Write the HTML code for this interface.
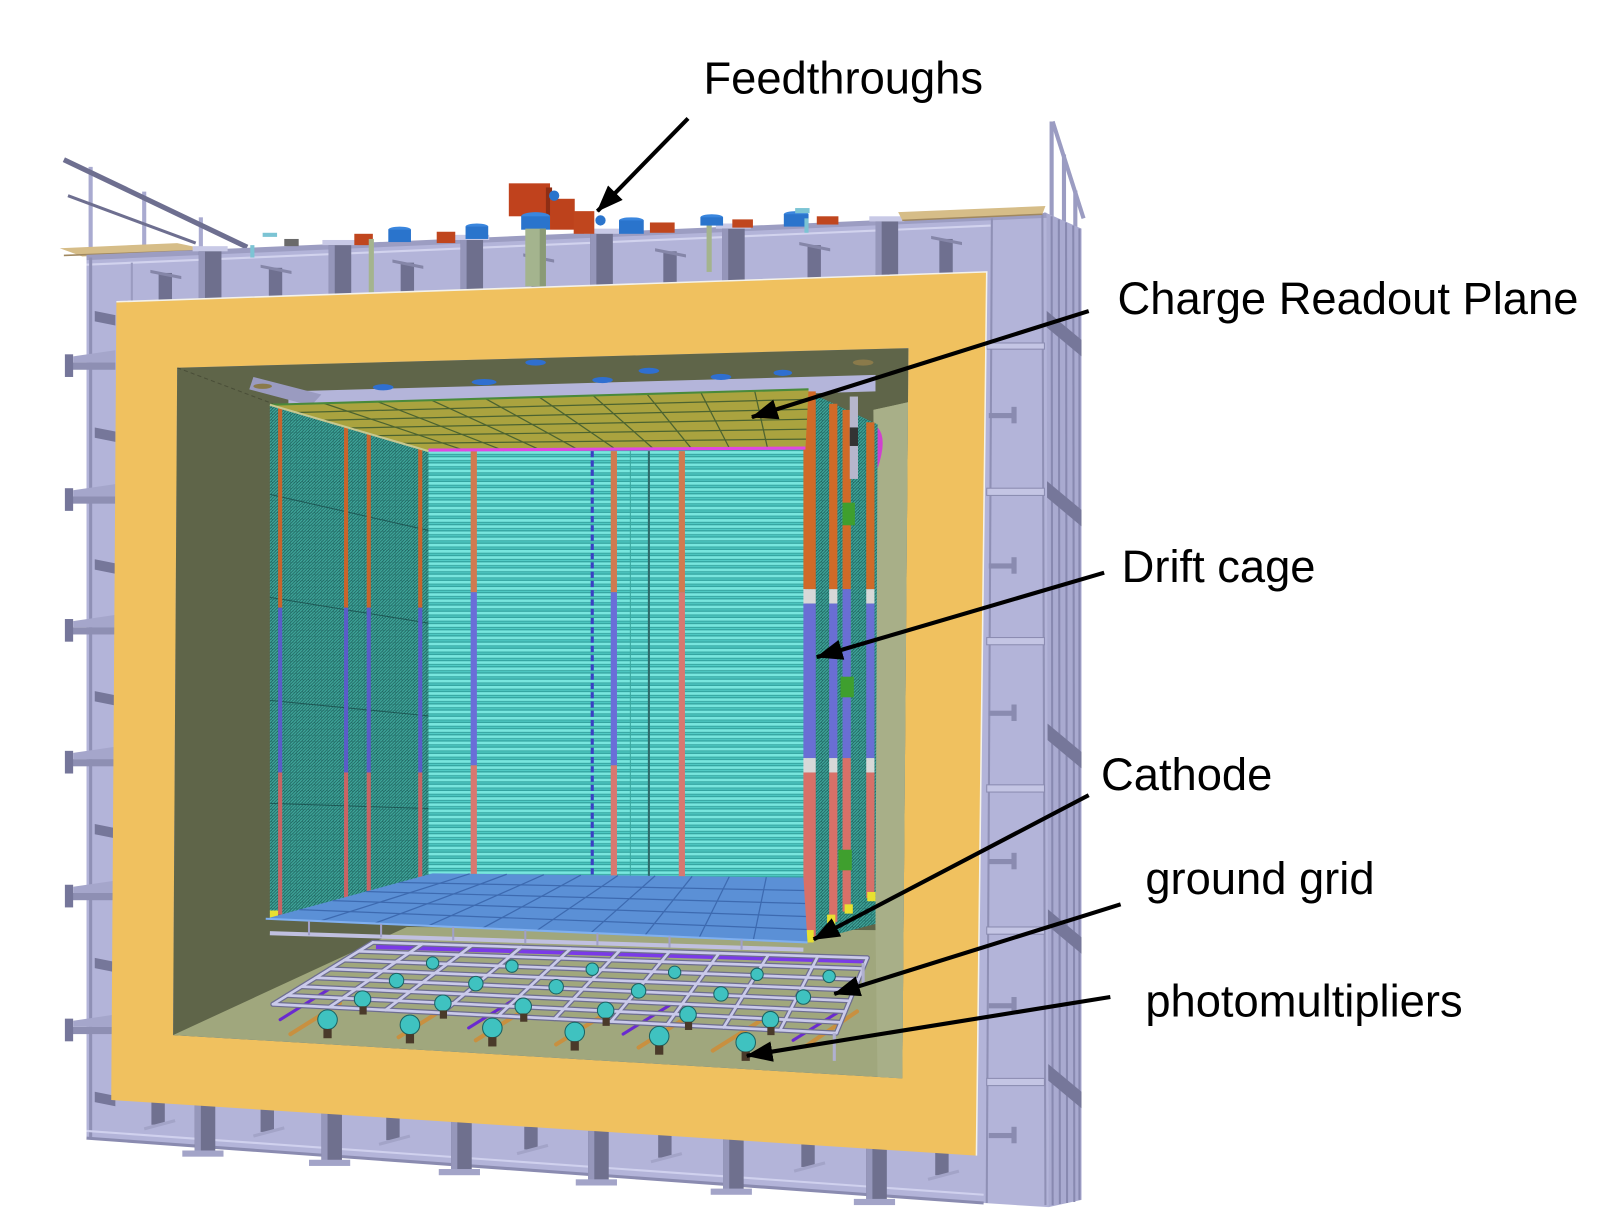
<!DOCTYPE html>
<html><head><meta charset="utf-8"><style>
html,body{margin:0;padding:0;background:#fff;width:1614px;height:1230px;overflow:hidden}
svg{display:block}
</style></head><body>
<svg width="1614" height="1230" viewBox="0 0 1567 1194.2" preserveAspectRatio="none" font-family="'Liberation Sans', Arial, sans-serif">
<defs>
<pattern id="stripe" width="40" height="6" patternUnits="userSpaceOnUse">
<rect width="40" height="6" fill="#34a4a0"/>
<rect y="0" width="40" height="2.6" fill="#78e6de"/>
<rect y="3.6" width="40" height="1.1" fill="#52ccc6"/>
</pattern>
<pattern id="mesh" width="6" height="6" patternUnits="userSpaceOnUse">
<rect width="6" height="6" fill="#1f6460"/>
<path d="M0,6 L6,0 M0,3 L3,0 M3,6 L6,3" stroke="#40a89c" stroke-width="1.3"/>
</pattern>
<clipPath id="hole"><polygon points="172,357 882,338 876,1047 168,1005"/></clipPath>
<marker id="ah" viewBox="0 0 26 20" refX="25" refY="10" markerWidth="26" markerHeight="20" markerUnits="userSpaceOnUse" orient="auto">
<path d="M0,0 L26,10 L0,20 Z" fill="#000"/>
</marker>
</defs>

<!-- left railing -->
<g stroke="#a9aad0" stroke-width="4">
<line x1="88" y1="162" x2="88" y2="246"/>
<line x1="140" y1="186" x2="140" y2="244"/>
<line x1="195" y1="211" x2="195" y2="242"/>
</g>
<line x1="62" y1="155" x2="240" y2="240" stroke="#6e6f90" stroke-width="5"/>
<line x1="66" y1="190" x2="190" y2="236" stroke="#6e6f90" stroke-width="3"/>
<polygon points="58,241 172,236 205,243 80,249" fill="#d6bd88"/>
<line x1="62" y1="248" x2="200" y2="243" stroke="#a08860" stroke-width="1.5"/>

<!-- right railing -->
<g stroke="#9b9cc2" stroke-width="4" fill="none">
<line x1="1021" y1="118" x2="1021" y2="262"/>
<line x1="1022" y1="118" x2="1052" y2="212"/>
<line x1="1033" y1="150" x2="1033" y2="275"/>
<line x1="1044" y1="185" x2="1044" y2="285"/>
</g>

<!-- steel side face -->
<polygon points="1014,206 1050,222 1050,1165 1018,1172" fill="#a9aad0"/>
<g stroke="#8889b0" stroke-width="2">
<line x1="1021" y1="210" x2="1022" y2="1170"/>
<line x1="1028" y1="213" x2="1029" y2="1169"/>
<line x1="1035" y1="216" x2="1036" y2="1168"/>
<line x1="1042" y1="219" x2="1043" y2="1167"/>
<line x1="1048" y1="222" x2="1048" y2="1165"/>
</g>
<g fill="#76779a">
<polygon points="1014,300 1050,330 1050,346 1014,316"/>
<polygon points="1014,465 1050,495 1050,511 1014,481"/>
<polygon points="1014,700 1050,730 1050,746 1014,716"/>
<polygon points="1014,880 1050,910 1050,926 1014,896"/>
<polygon points="1014,1030 1050,1060 1050,1076 1014,1046"/>
</g>

<!-- steel front face -->
<polygon points="84,250 962,212 1016,208 1018,1172 955,1168 84,1105" fill="#b3b4d9"/>
<line x1="84" y1="250" x2="1016" y2="209" stroke="#9c9dc2" stroke-width="5"/>
<line x1="84" y1="257" x2="962" y2="219" stroke="#d2d3ee" stroke-width="2"/>
<line x1="88" y1="250" x2="88" y2="1106" stroke="#8f90b5" stroke-width="3"/>
<line x1="128" y1="255" x2="128" y2="300" stroke="#9a9bc0" stroke-width="2"/>
<line x1="84" y1="1105" x2="955" y2="1168" stroke="#8a8bb0" stroke-width="3"/>
<line x1="84" y1="1098" x2="955" y2="1160" stroke="#d0d1ee" stroke-width="2"/>
<line x1="963" y1="212" x2="958" y2="1168" stroke="#8f90b5" stroke-width="2"/>
<line x1="1012" y1="208" x2="1015" y2="1170" stroke="#8f90b5" stroke-width="2"/>

<!-- top beams -->
<g>
<rect x="193" y="242" width="22" height="48" fill="#6e6f8d"/><rect x="187" y="239" width="34" height="5" fill="#c8c9e6"/><rect x="193" y="244" width="6" height="46" fill="#9596ba"/>
<rect x="319" y="236" width="22" height="50" fill="#6e6f8d"/><rect x="313" y="233" width="34" height="5" fill="#c8c9e6"/><rect x="319" y="238" width="6" height="48" fill="#9596ba"/>
<rect x="447" y="231" width="22" height="50" fill="#6e6f8d"/><rect x="441" y="228" width="34" height="5" fill="#c8c9e6"/><rect x="447" y="233" width="6" height="48" fill="#9596ba"/>
<rect x="573" y="225" width="22" height="52" fill="#6e6f8d"/><rect x="567" y="222" width="34" height="5" fill="#c8c9e6"/><rect x="573" y="227" width="6" height="50" fill="#9596ba"/>
<rect x="701" y="220" width="22" height="53" fill="#6e6f8d"/><rect x="695" y="217" width="34" height="5" fill="#c8c9e6"/><rect x="701" y="222" width="6" height="51" fill="#9596ba"/>
<rect x="850" y="213" width="22" height="55" fill="#6e6f8d"/><rect x="844" y="210" width="34" height="5" fill="#c8c9e6"/><rect x="850" y="215" width="6" height="53" fill="#9596ba"/>
</g>
<g fill="#6f7090">
<rect x="154" y="265" width="13" height="27"/><rect x="261" y="260" width="13" height="28"/><rect x="389" y="255" width="13" height="29"/><rect x="516" y="249" width="13" height="30"/><rect x="644" y="244" width="13" height="31"/><rect x="784" y="238" width="13" height="32"/><rect x="912" y="232" width="13" height="34"/>
</g>
<g fill="#8586a8">
<polygon points="146,262 176,268 176,271 146,265"/><polygon points="253,257 283,263 283,266 253,260"/><polygon points="381,252 411,258 411,261 381,255"/><polygon points="508,246 538,252 538,255 508,249"/><polygon points="636,241 666,247 666,250 636,244"/><polygon points="776,235 806,241 806,244 776,238"/><polygon points="904,229 934,235 934,238 904,232"/>
</g>
<polygon points="872,206 1015,200 1012,208 876,214" fill="#d6bd88"/>
<line x1="876" y1="214" x2="1012" y2="208" stroke="#a08860" stroke-width="1.5"/>

<!-- top feedthrough items -->
<rect x="255" y="226" width="14" height="4" fill="#7cc4d4"/>
<rect x="243" y="238" width="4" height="12" fill="#7cc4d4"/>
<rect x="276" y="232" width="14" height="7" fill="#6a6a6a"/>
<rect x="344" y="227" width="18" height="11" fill="#c0461e"/>
<rect x="358" y="232" width="5" height="52" fill="#a4b48e"/>
<ellipse cx="388" cy="223" rx="11" ry="3" fill="#3a86de"/><rect x="377" y="223" width="22" height="12" fill="#2a74cc"/>
<rect x="424" y="225" width="18" height="11" fill="#c0461e"/>
<ellipse cx="463" cy="220" rx="11" ry="3" fill="#3a86de"/><rect x="452" y="220" width="22" height="12" fill="#2a74cc"/>
<rect x="494" y="178" width="40" height="32" fill="#c0421d"/>
<rect x="530" y="182" width="6" height="28" fill="#8e2e14"/>
<ellipse cx="520" cy="210" rx="14" ry="4" fill="#3a86de"/><rect x="506" y="210" width="28" height="13" fill="#2a74cc"/>
<rect x="510" y="222" width="20" height="56" fill="#a4b48e"/><rect x="524" y="222" width="6" height="56" fill="#8a9a76"/>
<rect x="534" y="193" width="24" height="30" fill="#bd421c"/>
<circle cx="538" cy="190" r="5" fill="#2a74cc"/>
<rect x="557" y="205" width="20" height="22" fill="#c0461e"/>
<circle cx="583" cy="214" r="5" fill="#2a74cc"/>
<ellipse cx="613" cy="214" rx="12" ry="3" fill="#3a86de"/><rect x="601" y="214" width="24" height="13" fill="#2a74cc"/>
<rect x="631" y="216" width="24" height="10" fill="#c0461e"/>
<rect x="686" y="214" width="5" height="50" fill="#a4b48e"/>
<ellipse cx="691" cy="211" rx="11" ry="3" fill="#3a86de"/><rect x="680" y="211" width="22" height="8" fill="#2a74cc"/>
<rect x="711" y="213" width="20" height="8" fill="#c0461e"/>
<ellipse cx="773" cy="208" rx="12" ry="3" fill="#3a86de"/><rect x="761" y="208" width="24" height="12" fill="#2a74cc"/>
<rect x="772" y="202" width="14" height="5" fill="#7cc4d4"/>
<rect x="781" y="212" width="4" height="14" fill="#7cc4d4"/>
<rect x="793" y="210" width="21" height="8" fill="#c0461e"/>

<!-- left stubs -->
<g>
<rect x="66" y="352" width="46" height="7" fill="#8e8fb3"/><rect x="63" y="344" width="8" height="22" fill="#75769a"/><polygon points="71,346 112,340 112,352 71,352" fill="#a5a6cb"/>
<rect x="66" y="482" width="46" height="7" fill="#8e8fb3"/><rect x="63" y="474" width="8" height="22" fill="#75769a"/><polygon points="71,476 112,470 112,482 71,482" fill="#a5a6cb"/>
<rect x="66" y="609" width="46" height="7" fill="#8e8fb3"/><rect x="63" y="601" width="8" height="22" fill="#75769a"/><polygon points="71,603 112,597 112,609 71,609" fill="#a5a6cb"/>
<rect x="66" y="737" width="46" height="7" fill="#8e8fb3"/><rect x="63" y="729" width="8" height="22" fill="#75769a"/><polygon points="71,731 112,725 112,737 71,737" fill="#a5a6cb"/>
<rect x="66" y="867" width="46" height="7" fill="#8e8fb3"/><rect x="63" y="859" width="8" height="22" fill="#75769a"/><polygon points="71,861 112,855 112,867 71,867" fill="#a5a6cb"/>
<rect x="66" y="997" width="46" height="7" fill="#8e8fb3"/><rect x="63" y="989" width="8" height="22" fill="#75769a"/><polygon points="71,991 112,985 112,997 71,997" fill="#a5a6cb"/>
</g>
<g fill="#76779a">
<polygon points="92,302 112,306 112,316 92,312"/><polygon points="92,415 112,419 112,429 92,425"/><polygon points="92,543 112,547 112,557 92,553"/><polygon points="92,671 112,675 112,685 92,681"/><polygon points="92,800 112,804 112,814 92,810"/><polygon points="92,930 112,934 112,944 92,940"/><polygon points="92,1060 112,1064 112,1074 92,1070"/>
</g>

<!-- right struts -->
<g fill="#c4c5e4" stroke="#8a8bb0" stroke-width="1">
<rect x="958" y="333" width="56" height="6"/>
<rect x="958" y="474" width="56" height="7"/>
<rect x="958" y="619" width="56" height="7"/>
<rect x="958" y="762" width="56" height="7"/>
<rect x="958" y="900" width="56" height="7"/>
<rect x="958" y="1047" width="56" height="7"/>
</g>
<g fill="#8a8bb0">
<rect x="960" y="401" width="24" height="5"/><rect x="982" y="395" width="5" height="16"/>
<rect x="960" y="547" width="24" height="5"/><rect x="982" y="541" width="5" height="16"/>
<rect x="960" y="690" width="24" height="5"/><rect x="982" y="684" width="5" height="16"/>
<rect x="960" y="834" width="24" height="5"/><rect x="982" y="828" width="5" height="16"/>
<rect x="960" y="974" width="24" height="5"/><rect x="982" y="968" width="5" height="16"/>
<rect x="960" y="1100" width="24" height="5"/><rect x="982" y="1094" width="5" height="16"/>
</g>

<!-- bottom beams -->
<g>
<rect x="189" y="1073" width="20" height="48" fill="#6f708e"/><rect x="189" y="1073" width="6" height="48" fill="#9697bb"/><rect x="177" y="1117" width="40" height="6" fill="#a3a4c8"/>
<rect x="312" y="1081" width="20" height="49" fill="#6f708e"/><rect x="312" y="1081" width="6" height="49" fill="#9697bb"/><rect x="300" y="1126" width="40" height="6" fill="#a3a4c8"/>
<rect x="438" y="1089" width="20" height="50" fill="#6f708e"/><rect x="438" y="1089" width="6" height="50" fill="#9697bb"/><rect x="426" y="1135" width="40" height="6" fill="#a3a4c8"/>
<rect x="571" y="1098" width="20" height="51" fill="#6f708e"/><rect x="571" y="1098" width="6" height="51" fill="#9697bb"/><rect x="559" y="1145" width="40" height="6" fill="#a3a4c8"/>
<rect x="702" y="1106" width="20" height="52" fill="#6f708e"/><rect x="702" y="1106" width="6" height="52" fill="#9697bb"/><rect x="690" y="1154" width="40" height="6" fill="#a3a4c8"/>
<rect x="841" y="1115" width="20" height="53" fill="#6f708e"/><rect x="841" y="1115" width="6" height="53" fill="#9697bb"/><rect x="829" y="1164" width="40" height="6" fill="#a3a4c8"/>
</g>
<g fill="#707190">
<rect x="147" y="1070" width="13" height="22"/><rect x="253" y="1077" width="13" height="22"/><rect x="375" y="1085" width="13" height="22"/><rect x="509" y="1094" width="13" height="22"/><rect x="639" y="1102" width="13" height="22"/><rect x="778" y="1111" width="13" height="22"/><rect x="908" y="1119" width="13" height="22"/>
</g>
<g stroke="#a3a4c8" stroke-width="3">
<line x1="140" y1="1096" x2="170" y2="1088"/><line x1="246" y1="1103" x2="276" y2="1095"/><line x1="368" y1="1111" x2="398" y2="1103"/><line x1="502" y1="1120" x2="532" y2="1112"/><line x1="632" y1="1128" x2="662" y2="1120"/><line x1="771" y1="1137" x2="801" y2="1129"/><line x1="901" y1="1145" x2="931" y2="1137"/>
</g>

<!-- yellow insulation frame -->
<path d="M113,293 L958,264 L948,1122 L108,1068 Z M172,357 L168,1005 L876,1047 L882,338 Z" fill="#f0c15f" fill-rule="evenodd"/>
<polyline points="113,293 958,264 948,1122" fill="none" stroke="#f4f2ea" stroke-width="1.5"/>

<!-- interior -->
<g clip-path="url(#hole)">
<rect x="160" y="330" width="730" height="730" fill="#5f6549"/>
<polygon points="848,398 884,390 884,1050 168,1005 395,900 850,903" fill="#a0a77d"/>
<polygon points="848,398 884,390 884,1050 852,1048 850,903" fill="#a8af88"/>
<line x1="172" y1="357" x2="265" y2="392" stroke="#4a4e38" stroke-width="1" stroke-dasharray="4,3"/>
<polygon points="280,380 850,364 850,380 280,397" fill="#b4b5da"/>
<polygon points="246,366 312,383 302,394 242,378" fill="#9a9bc0"/>
<g fill="#2f6fd0">
<ellipse cx="520" cy="352" rx="10" ry="3"/><ellipse cx="470" cy="371" rx="12" ry="3"/><ellipse cx="585" cy="369" rx="10" ry="3"/><ellipse cx="630" cy="360" rx="10" ry="3"/><ellipse cx="700" cy="366" rx="10" ry="3"/><ellipse cx="372" cy="376" rx="10" ry="3"/><ellipse cx="760" cy="362" rx="9" ry="3"/>
</g>
<ellipse cx="255" cy="375" rx="9" ry="2.5" fill="#8a7a4a"/>
<ellipse cx="838" cy="352" rx="10" ry="3" fill="#8a7a4a"/>

<!-- right panel -->
<polygon points="780,378 852,412 850,897 782,915" fill="url(#mesh)"/>
<!-- left panel -->
<polygon points="262,393 416,438 416,858 262,890" fill="url(#mesh)"/>
<g stroke="#1d5855" stroke-width="1">
<line x1="262" y1="480" x2="416" y2="515"/><line x1="262" y1="580" x2="416" y2="605"/><line x1="262" y1="680" x2="416" y2="695"/><line x1="262" y1="780" x2="416" y2="785"/>
</g>
<!-- front face -->
<polygon points="416,437 782,435 782,855 416,858" fill="url(#stripe)"/>
<line x1="630" y1="438" x2="630" y2="856" stroke="#2e6a6a" stroke-width="2"/>
<line x1="612" y1="438" x2="612" y2="856" stroke="#3aa8a0" stroke-width="1"/>
<line x1="575" y1="438" x2="575" y2="856" stroke="#3a40c4" stroke-width="3" stroke-dasharray="6,3"/>

<!-- posts left panel -->
<g>
<rect x="270" y="396" width="4" height="194" fill="#c8642c"/><rect x="270" y="590" width="4" height="160" fill="#5a5cc8"/><rect x="270" y="750" width="4" height="138" fill="#c86464"/>
<rect x="334" y="415" width="4" height="175" fill="#c8642c"/><rect x="334" y="590" width="4" height="160" fill="#5a5cc8"/><rect x="334" y="750" width="4" height="125" fill="#c86464"/>
<rect x="356" y="421" width="4" height="169" fill="#c8642c"/><rect x="356" y="590" width="4" height="160" fill="#5a5cc8"/><rect x="356" y="750" width="4" height="120" fill="#c86464"/>
<rect x="406" y="436" width="4" height="154" fill="#c8642c"/><rect x="406" y="590" width="4" height="160" fill="#5a5cc8"/><rect x="406" y="750" width="4" height="110" fill="#c86464"/>
</g>
<!-- posts front face -->
<g>
<rect x="457" y="438" width="6" height="137" fill="#d07a50"/><rect x="457" y="575" width="6" height="168" fill="#6a6ed8"/><rect x="457" y="743" width="6" height="114" fill="#d87870"/>
<rect x="593" y="438" width="6" height="137" fill="#d07a50"/><rect x="593" y="575" width="6" height="168" fill="#6a6ed8"/><rect x="593" y="743" width="6" height="114" fill="#d87870"/>
<rect x="659" y="438" width="6" height="137" fill="#d07a50"/><rect x="659" y="575" width="6" height="168" fill="#d87870"/><rect x="659" y="743" width="6" height="114" fill="#d87870"/>
</g>
<!-- posts right panel -->
<g>
<rect x="780" y="380" width="12" height="192" fill="#d06a28"/><rect x="780" y="572" width="12" height="14" fill="#d8d8d8"/><rect x="780" y="586" width="12" height="150" fill="#6a6ed4"/><rect x="780" y="736" width="12" height="14" fill="#d8d8d8"/><rect x="780" y="750" width="12" height="162" fill="#d87068"/>
<rect x="805" y="392" width="8" height="180" fill="#d06a28"/><rect x="805" y="572" width="8" height="14" fill="#d8d8d8"/><rect x="805" y="586" width="8" height="150" fill="#6a6ed4"/><rect x="805" y="736" width="8" height="14" fill="#d8d8d8"/><rect x="805" y="750" width="8" height="145" fill="#d87068"/>
<rect x="818" y="398" width="8" height="174" fill="#d06a28"/><rect x="818" y="572" width="8" height="164" fill="#6a6ed4"/><rect x="818" y="736" width="8" height="149" fill="#d87068"/>
<rect x="841" y="410" width="8" height="162" fill="#d06a28"/><rect x="841" y="572" width="8" height="14" fill="#d8d8d8"/><rect x="841" y="586" width="8" height="150" fill="#6a6ed4"/><rect x="841" y="736" width="8" height="14" fill="#d8d8d8"/><rect x="841" y="750" width="8" height="122" fill="#d87068"/>
</g>
<g fill="#3f9f2e">
<rect x="818" y="488" width="12" height="22"/><rect x="816" y="657" width="13" height="20"/><rect x="814" y="825" width="13" height="20"/>
</g>
<rect x="825" y="385" width="8" height="80" fill="#b6b6cc"/><rect x="825" y="415" width="8" height="18" fill="#333"/>
<path d="M852,415 q10,10 0,40" fill="#d040d0"/>
<g fill="#e8e030">
<rect x="782" y="903" width="8" height="12"/><rect x="803" y="888" width="8" height="10"/><rect x="820" y="878" width="8" height="9"/><rect x="842" y="866" width="8" height="9"/>
<rect x="262" y="884" width="8" height="8"/>
</g>

<!-- charge readout plane -->
<polygon points="262,393 785,378 782,436 416,438" fill="#aaa33f"/>
<g stroke="#4b6330" stroke-width="1.2">
<line x1="287.7" y1="400.5" x2="784.5" y2="387.7"/><line x1="313.3" y1="408" x2="784" y2="397.3"/><line x1="339" y1="415.5" x2="783.5" y2="407"/><line x1="364.7" y1="423" x2="783" y2="416.7"/><line x1="390.3" y1="430.5" x2="782.5" y2="426.3"/>
<line x1="314.3" y1="391.5" x2="452.6" y2="437.8"/><line x1="366.6" y1="390" x2="489.2" y2="437.6"/><line x1="418.9" y1="388.5" x2="525.8" y2="437.4"/><line x1="471.2" y1="387" x2="562.4" y2="437.2"/><line x1="523.5" y1="385.5" x2="599" y2="437"/><line x1="575.8" y1="384" x2="635.6" y2="436.8"/><line x1="628.1" y1="382.5" x2="672.2" y2="436.6"/><line x1="680.4" y1="381" x2="708.8" y2="436.4"/><line x1="732.7" y1="379.5" x2="745.4" y2="436.2"/>
</g>
<line x1="262" y1="393" x2="785" y2="378" stroke="#4a8a3a" stroke-width="2"/>
<line x1="416" y1="437" x2="782" y2="435" stroke="#e048e0" stroke-width="3"/>
<line x1="262" y1="393" x2="416" y2="438" stroke="#c8c890" stroke-width="2"/>

<!-- cathode -->
<polygon points="258,892 420,848 780,852 784,915" fill="#5b90d6"/>
<g stroke="#3d6ab0" stroke-width="1.2">
<line x1="290.4" y1="883.2" x2="783.2" y2="902.4"/><line x1="322.8" y1="874.4" x2="782.4" y2="889.8"/><line x1="355.2" y1="865.6" x2="781.6" y2="877.2"/><line x1="387.6" y1="856.8" x2="780.8" y2="864.6"/>
<line x1="310.6" y1="894.3" x2="456" y2="848.4"/><line x1="363.2" y1="896.6" x2="492" y2="848.8"/><line x1="415.8" y1="898.9" x2="528" y2="849.2"/><line x1="468.4" y1="901.2" x2="564" y2="849.6"/><line x1="521" y1="903.5" x2="600" y2="850"/><line x1="573.6" y1="905.8" x2="636" y2="850.4"/><line x1="626.2" y1="908.1" x2="672" y2="850.8"/><line x1="678.8" y1="910.4" x2="708" y2="851.2"/><line x1="731.4" y1="912.7" x2="744" y2="851.6"/>
</g>
<line x1="258" y1="892" x2="784" y2="915" stroke="#80b0f0" stroke-width="2"/>
<line x1="262" y1="906" x2="780" y2="922" stroke="#c0c0e0" stroke-width="4"/>
<g stroke="#a0a0c8" stroke-width="2">
<line x1="300" y1="894" x2="300" y2="908"/><line x1="370" y1="897" x2="370" y2="910"/><line x1="440" y1="900" x2="440" y2="913"/><line x1="510" y1="903" x2="510" y2="916"/><line x1="580" y1="906" x2="580" y2="918"/><line x1="650" y1="909" x2="650" y2="920"/><line x1="720" y1="912" x2="720" y2="922"/>
</g>

<!-- rods under grid -->
<g stroke="#c89040" stroke-width="4" stroke-linecap="round">
<line x1="282" y1="1004" x2="330" y2="974"/><line x1="387" y1="1007" x2="435" y2="977"/><line x1="462" y1="1010" x2="510" y2="980"/><line x1="540" y1="1014" x2="588" y2="984"/><line x1="620" y1="1017" x2="668" y2="987"/><line x1="692" y1="1020" x2="740" y2="990"/><line x1="782" y1="1016" x2="832" y2="982"/>
</g>
<g stroke="#6a2ad0" stroke-width="3" stroke-linecap="round">
<line x1="272" y1="990" x2="320" y2="960"/><line x1="455" y1="998" x2="500" y2="970"/><line x1="605" y1="1004" x2="650" y2="976"/><line x1="770" y1="1010" x2="815" y2="982"/>
</g>
<line x1="365" y1="919" x2="840" y2="933" stroke="#7a3ae8" stroke-width="5"/>

<!-- ground grid -->
<g stroke="#6e6e90" stroke-width="5" stroke-linecap="round">
<line x1="265" y1="975" x2="812" y2="1003"/><line x1="278.9" y1="966.4" x2="816.3" y2="992.6"/><line x1="292.7" y1="957.9" x2="820.6" y2="982.1"/><line x1="306.6" y1="949.3" x2="824.9" y2="971.7"/><line x1="320.4" y1="940.7" x2="829.1" y2="961.3"/><line x1="334.3" y1="932.1" x2="833.4" y2="950.9"/><line x1="348.1" y1="923.6" x2="837.7" y2="940.4"/><line x1="362" y1="915" x2="842" y2="930"/>
<line x1="265" y1="975" x2="362" y2="915"/><line x1="319.7" y1="977.8" x2="410" y2="916.5"/><line x1="374.4" y1="980.6" x2="458" y2="918"/><line x1="429.1" y1="983.4" x2="506" y2="919.5"/><line x1="483.8" y1="986.2" x2="554" y2="921"/><line x1="538.5" y1="989" x2="602" y2="922.5"/><line x1="593.2" y1="991.8" x2="650" y2="924"/><line x1="647.9" y1="994.6" x2="698" y2="925.5"/><line x1="702.6" y1="997.4" x2="746" y2="927"/><line x1="757.3" y1="1000.2" x2="794" y2="928.5"/><line x1="812" y1="1003" x2="842" y2="930"/>
</g>
<g stroke="#cacaea" stroke-width="2.6" stroke-linecap="round">
<line x1="265" y1="975" x2="812" y2="1003"/><line x1="278.9" y1="966.4" x2="816.3" y2="992.6"/><line x1="292.7" y1="957.9" x2="820.6" y2="982.1"/><line x1="306.6" y1="949.3" x2="824.9" y2="971.7"/><line x1="320.4" y1="940.7" x2="829.1" y2="961.3"/><line x1="334.3" y1="932.1" x2="833.4" y2="950.9"/><line x1="348.1" y1="923.6" x2="837.7" y2="940.4"/><line x1="362" y1="915" x2="842" y2="930"/>
<line x1="265" y1="975" x2="362" y2="915"/><line x1="319.7" y1="977.8" x2="410" y2="916.5"/><line x1="374.4" y1="980.6" x2="458" y2="918"/><line x1="429.1" y1="983.4" x2="506" y2="919.5"/><line x1="483.8" y1="986.2" x2="554" y2="921"/><line x1="538.5" y1="989" x2="602" y2="922.5"/><line x1="593.2" y1="991.8" x2="650" y2="924"/><line x1="647.9" y1="994.6" x2="698" y2="925.5"/><line x1="702.6" y1="997.4" x2="746" y2="927"/><line x1="757.3" y1="1000.2" x2="794" y2="928.5"/><line x1="812" y1="1003" x2="842" y2="930"/>
</g>
<line x1="810" y1="1003" x2="810" y2="1030" stroke="#b0b0d0" stroke-width="3"/>
<line x1="838" y1="935" x2="838" y2="958" stroke="#b0b0d0" stroke-width="3"/>

<!-- PMTs -->
<g fill="#3fc2c0" stroke="#1a6262" stroke-width="1">
<circle cx="420" cy="935" r="6"/><circle cx="497" cy="938" r="6"/><circle cx="575" cy="941" r="6"/><circle cx="655" cy="944" r="6"/><circle cx="735" cy="946" r="6"/><circle cx="805" cy="948" r="6"/>
<circle cx="385" cy="952" r="7"/><circle cx="462" cy="955" r="7"/><circle cx="540" cy="958" r="7"/><circle cx="620" cy="962" r="7"/><circle cx="700" cy="965" r="7"/><circle cx="780" cy="968" r="7"/>
<circle cx="352" cy="970" r="8"/><circle cx="430" cy="974" r="8"/><circle cx="508" cy="977" r="8"/><circle cx="588" cy="981" r="8"/><circle cx="668" cy="985" r="8"/><circle cx="748" cy="990" r="8"/>
<circle cx="318" cy="990" r="9.5"/><circle cx="398" cy="995" r="9.5"/><circle cx="478" cy="998" r="9.5"/><circle cx="558" cy="1002" r="9.5"/><circle cx="640" cy="1006" r="9.5"/><circle cx="724" cy="1012" r="9.5"/>
</g>
<g fill="#4a3a2a">
<rect x="314" y="999" width="8" height="9"/><rect x="394" y="1004" width="8" height="9"/><rect x="474" y="1007" width="8" height="9"/><rect x="554" y="1011" width="8" height="9"/><rect x="636" y="1015" width="8" height="9"/><rect x="720" y="1021" width="8" height="9"/>
<rect x="349" y="977" width="7" height="8"/><rect x="427" y="981" width="7" height="8"/><rect x="505" y="984" width="7" height="8"/><rect x="585" y="988" width="7" height="8"/><rect x="665" y="992" width="7" height="8"/><rect x="745" y="997" width="7" height="8"/>
</g>
</g>

<!-- arrows -->
<g stroke="#000" stroke-width="4" fill="none" marker-end="url(#ah)">
<line x1="668" y1="115" x2="580" y2="205"/>
<line x1="1057" y1="302" x2="730" y2="405"/>
<line x1="1072" y1="556" x2="793" y2="638"/>
<line x1="1057" y1="772" x2="790" y2="912"/>
<line x1="1088" y1="878" x2="810" y2="965"/>
<line x1="1078" y1="968" x2="725" y2="1025"/>
</g>

<!-- labels -->
<g font-size="44" fill="#000">
<text x="683" y="91">Feedthroughs</text>
<text x="1085" y="305">Charge Readout Plane</text>
<text x="1089" y="565">Drift cage</text>
<text x="1069" y="767">Cathode</text>
<text x="1112" y="868">ground grid</text>
<text x="1112" y="987">photomultipliers</text>
</g>
</svg>
</body></html>
